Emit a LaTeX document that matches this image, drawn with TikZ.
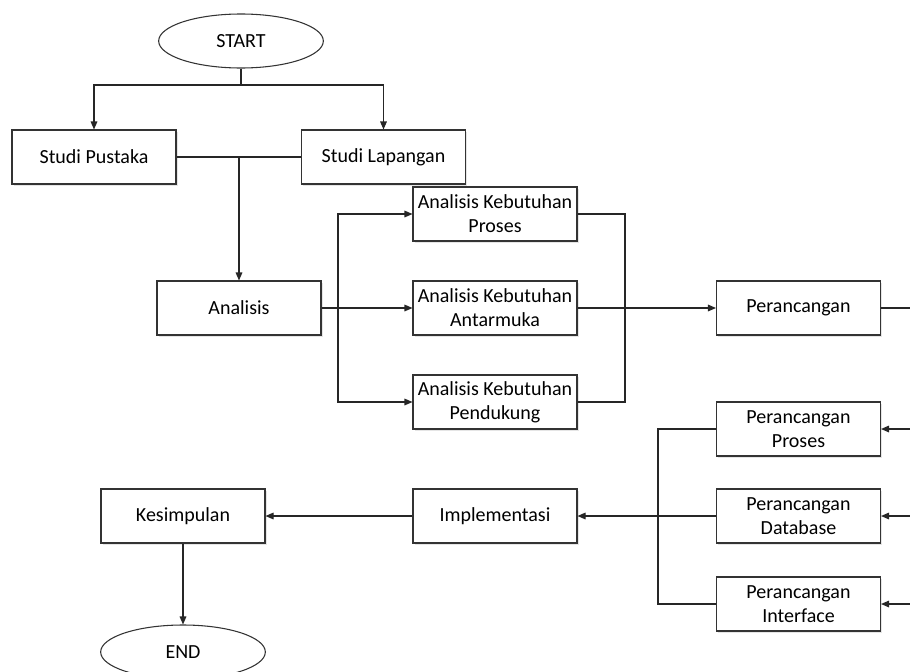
\documentclass[tikz,border=0pt]{standalone}
\usepackage{fontspec}
\setmainfont{Carlito}
\usetikzlibrary{arrows.meta,shapes.geometric}
\tikzset{
  box/.style={draw=black!80, line width=0.8pt, fill=white, minimum width=123pt, minimum height=40.5pt,
    align=center, inner sep=1pt, font=\fontsize{15}{18}\selectfont,
    preaction={fill=black!10, transform canvas={xshift=1.2pt, yshift=-1.2pt}}},
  term/.style={ellipse, draw=black!80, line width=0.8pt, fill=white, minimum width=123.5pt, minimum height=40.5pt,
    inner sep=0pt, font=\fontsize{15}{18}\selectfont},
  line/.style={draw=black!85, line width=0.8pt},
  arr/.style={line, -{Triangle[length=6pt,width=5pt]}},
}
\begin{document}
\begin{tikzpicture}[x=0.75pt, y=-0.75pt]
\useasboundingbox (0,0) rectangle (910,671);

% terminals and process boxes
\node[term] (start) at (241,41) {START};
\node[box] (pustaka) at (94,157) {Studi Pustaka};
\node[box] (lapangan) at (383.5,157) {Studi Lapangan};
\node[box] (analisis) at (239,308) {Analisis};
\node[box] (akp) at (495,214) {Analisis Kebutuhan\\Proses};
\node[box] (aka) at (495,308) {Analisis Kebutuhan\\Antarmuka};
\node[box] (akd) at (495,402) {Analisis Kebutuhan\\Pendukung};
\node[box] (rancang) at (798.5,308) {Perancangan};
\node[box] (rproses) at (798.5,429) {Perancangan\\Proses};
\node[box] (rdb) at (798.5,516) {Perancangan\\Database};
\node[box] (rint) at (798.5,604) {Perancangan\\Interface};
\node[box] (impl) at (495,516) {Implementasi};
\node[box] (simpul) at (183,516) {Kesimpulan};
\node[term] (end) at (183,652) {END};

% connector ends at the page edge
\coordinate (e1) at (912,308);
\coordinate (e2) at (912,429);
\coordinate (e3) at (912,516);
\coordinate (e4) at (912,604);

% START to both studies
\draw[line] (start.south) -- (241,85);
\draw[arr] (241,85) -| (pustaka.north);
\draw[arr] (241,85) -| (lapangan.north);

% studies join into Analisis
\draw[line] (pustaka.east) -- (lapangan.west);
\draw[arr] (pustaka.east -| analisis.north) -- (analisis.north);

% Analisis branches
\draw[line] (analisis.east) -- (338,308);
\draw[arr] (338,308) |- (akp.west);
\draw[arr] (338,308) -- (aka.west);
\draw[arr] (338,308) |- (akd.west);

% branches merge into Perancangan
\draw[line] (akp.east) -| (625,308);
\draw[line] (akd.east) -| (625,308);
\draw[arr] (aka.east) -- (rancang.west);
\draw[line] (rancang.east) -- (e1);

% incoming design branches
\draw[arr] (e2) -- (rproses.east);
\draw[arr] (e3) -- (rdb.east);
\draw[arr] (e4) -- (rint.east);

% design branches merge into Implementasi
\draw[line] (rproses.west) -| (658,516);
\draw[line] (rint.west) -| (658,516);
\draw[arr] (rdb.west) -- (impl.east);
\draw[arr] (impl.west) -- (simpul.east);
\draw[arr] (simpul.south) -- (end.north);
\end{tikzpicture}
\end{document}
